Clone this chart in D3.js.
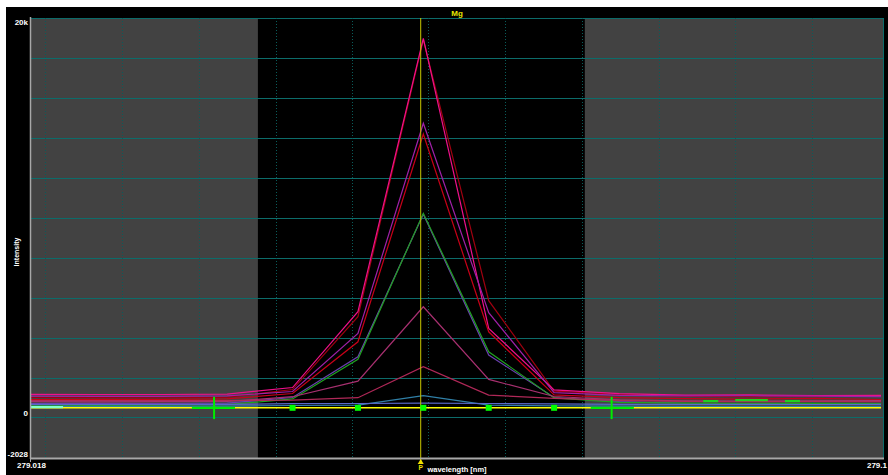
<!DOCTYPE html>
<html><head><meta charset="utf-8">
<script src="https://cdn.jsdelivr.net/npm/d3@7"></script>
<style>html,body{margin:0;padding:0;background:#fff;}svg{display:block;}</style>
</head><body><svg id="c" width="888" height="475"></svg>
<script>
// ---- data ----
const wavelengths = [279.018, 279.028, 279.038, 279.048, 279.058, 279.068, 279.078, 279.088, 279.098, 279.108, 279.118, 279.128, 279.138, 279.148];
const seriesNames = ["s2","s1","s4","s3","s6","s5","s7","s8","s9","s10","blank"];
const seriesColors = ["#a00010","#f0108a","#c80018","#a020a8","#6a40b0","#20a020","#a83070","#b02858","#3080a8","#5868c8","#ffff00"];
const s1  = [1160, 1150, 1150, 1170, 1500, 5300, 18980, 4460, 1380, 1190, 1120, 1130, 1100, 1110];
const s2  = [1000,  990,  980, 1010, 1400, 5050, 18900, 5850, 1320, 1150, 1060, 1040, 1050, 1080];
const s3  = [1070, 1060, 1060, 1080, 1300, 4210, 14730, 5250, 1240, 1110, 1080, 1090, 1070, 1040];
const s4  = [ 900,  910,  900,  930, 1200, 3790, 14190, 4290, 1130,  990,  940,  920,  960,  900];
const s6  = [ 700,  710,  700,  720, 1000, 3040, 10180, 3125, 1000,  790,  700,  690,  700,  700];
const s5  = [ 620,  610,  620,  640,  930, 2910, 10220, 3290,  980,  760,  720,  700,  710,  690];
const s7  = [ 790,  780,  790,  800, 1040, 1820,  5545, 1905, 1050,  880,  830,  820,  830,  850];
const s8  = [ 850,  840,  840,  850,  870,  990,  2540, 1120,  960,  860,  800,  790,  800,  790];
const s9  = [ 560,  560,  560,  570,  600,  620,  1090,  620,  580,  570,  560,  560,  560,  560];
const s10 = [ 660,  650,  650,  660,  690,  700,   720,  700,  680,  660,  650,  660,  650,  660];
const blank = [486, 486, 486, 486, 486, 486, 486, 486, 486, 486, 486, 486, 486, 486];
const peakPoints = [279.058, 279.068, 279.078, 279.088, 279.098];
const peakMarker = 279.0776;
const gridWavelengths = [279.0201, 279.0319, 279.0437, 279.0555, 279.0671, 279.0787, 279.0905, 279.1023, 279.1140, 279.1257, 279.1374];
const gridIntensities = [0, 2000, 4000, 6000, 8000, 10000, 12000, 14000, 16000, 18000, 20000];
const yTickLabels = [[20000, "20k"], [0, "0"], [-2028, "-2028"]];
const xTickLabels = ["279.018", "279.1"];
const windowLeft = 279.0527, windowRight = 279.1027;
const bgCorrection = [279.0460, 279.1068];
const bgSegments = [
  [279.0180, 279.0229, 520, "#7fffc8"],
  [279.0426, 279.0492, 486, "#00ee00"],
  [279.1036, 279.1102, 486, "#00ee00"],
  [279.1208, 279.1231, 820, "#20d020"],
  [279.1257, 279.1307, 870, "#20d020"],
  [279.1333, 279.1356, 820, "#20d020"]
];
const allSeries = [s2, s1, s4, s3, s6, s5, s7, s8, s9, s10, blank];

// ---- chart ----
const svg = d3.select("#c");
const L = 31, R = 883, T = 18, B = 458;
const x = d3.scaleLinear().domain([279.018, 279.1483]).range([L, R]);
const y = d3.scaleLinear().domain([-2028, 20000]).range([B, T]);

svg.append("rect").attr("x", 6).attr("y", 7).attr("width", 882).attr("height", 468).attr("fill", "#000");
svg.append("rect").attr("x", L).attr("y", T).attr("width", x(windowLeft) - L).attr("height", B - T).attr("fill", "#424242");
svg.append("rect").attr("x", x(windowRight)).attr("y", T).attr("width", R - x(windowRight)).attr("height", B - T).attr("fill", "#424242");

// grid
svg.append("g").selectAll("line").data(gridIntensities).join("line")
  .attr("x1", L).attr("x2", R).attr("y1", d => Math.round(y(d)) + 0.5).attr("y2", d => Math.round(y(d)) + 0.5)
  .attr("stroke", "#0c6c6a").attr("stroke-width", 1);
svg.append("g").selectAll("line").data(gridWavelengths).join("line")
  .attr("x1", d => Math.round(x(d)) + 0.5).attr("x2", d => Math.round(x(d)) + 0.5).attr("y1", T).attr("y2", B)
  .attr("stroke", "#0a5c5a").attr("stroke-width", 1).attr("stroke-dasharray", "1,2");
svg.append("line").attr("x1", R + 0.5).attr("x2", R + 0.5).attr("y1", T).attr("y2", B).attr("stroke", "#0c6c6a");

// series
const line = d3.line().x((d, i) => x(wavelengths[i])).y(d => y(d));
svg.append("g").selectAll("path").data(allSeries).join("path")
  .attr("d", d => line(d)).attr("fill", "none")
  .attr("stroke", (d, i) => seriesColors[i]).attr("stroke-width", (d, i) => i === 10 ? 1.5 : 1.2);

// background segments
svg.append("g").selectAll("line").data(bgSegments).join("line")
  .attr("x1", d => x(d[0])).attr("x2", d => x(d[1])).attr("y1", d => y(d[2])).attr("y2", d => y(d[2]))
  .attr("stroke", d => d[3]).attr("stroke-width", 2.2);
svg.append("g").selectAll("line").data(bgCorrection).join("line")
  .attr("x1", d => x(d)).attr("x2", d => x(d)).attr("y1", y(1035)).attr("y2", y(-80))
  .attr("stroke", "#00ee00").attr("stroke-width", 2);

// peak marker line
svg.append("line").attr("x1", x(peakMarker)).attr("x2", x(peakMarker)).attr("y1", T).attr("y2", 461)
  .attr("stroke", "#c8c800").attr("stroke-width", 1);
svg.append("g").selectAll("rect").data(peakPoints).join("rect")
  .attr("x", d => x(d) - 3).attr("y", y(486) - 3).attr("width", 6).attr("height", 6).attr("fill", "#00ff00");

// axes
svg.append("line").attr("x1", L - 0.5).attr("x2", L - 0.5).attr("y1", T - 1).attr("y2", B + 1).attr("stroke", "#a8a8a8").attr("stroke-width", 1.5);
svg.append("line").attr("x1", L).attr("x2", R + 1).attr("y1", B + 0.5).attr("y2", B + 0.5).attr("stroke", "#a8a8a8").attr("stroke-width", 2);
svg.append("line").attr("x1", L - 0.5).attr("x2", L - 0.5).attr("y1", B).attr("y2", B + 4).attr("stroke", "#a8a8a8");

const font = "'Liberation Sans', Arial, sans-serif";
svg.append("g").selectAll("text").data(yTickLabels).join("text")
  .attr("x", 28).attr("y", d => d[0] === 20000 ? y(d[0]) + 7 : y(d[0]) - 1)
  .attr("text-anchor", "end").attr("font-family", font).attr("font-size", 8).attr("font-weight", "bold")
  .attr("fill", "#fff").text(d => d[1]);
svg.append("text").attr("x", 17).attr("y", 468).attr("font-family", font).attr("font-size", 8).attr("font-weight", "bold").attr("fill", "#fff").text(xTickLabels[0]);
svg.append("text").attr("x", 887).attr("y", 468).attr("text-anchor", "end").attr("font-family", font).attr("font-size", 8).attr("font-weight", "bold").attr("fill", "#fff").text(xTickLabels[1]);
svg.append("text").attr("transform", "translate(19,252) rotate(-90)").attr("text-anchor", "middle")
  .attr("font-family", font).attr("font-size", 7).attr("font-weight", "bold").attr("fill", "#fff").text("Intensity");
svg.append("text").attr("x", 457).attr("y", 472).attr("text-anchor", "middle")
  .attr("font-family", font).attr("font-size", 7.5).attr("font-weight", "bold").attr("fill", "#fff").text("wavelength [nm]");
svg.append("text").attr("x", 457).attr("y", 16).attr("text-anchor", "middle")
  .attr("font-family", font).attr("font-size", 8).attr("font-weight", "bold").attr("fill", "#e8e800").text("Mg");
const px = x(peakMarker);
svg.append("path").attr("d", `M${px - 3},${464} L${px},${459} L${px + 3},${464} Z`).attr("fill", "#f0e000");
svg.append("text").attr("x", px).attr("y", 470).attr("text-anchor", "middle")
  .attr("font-family", font).attr("font-size", 6.5).attr("font-weight", "bold").attr("fill", "#f0e000").text("P");
</script></body></html>
